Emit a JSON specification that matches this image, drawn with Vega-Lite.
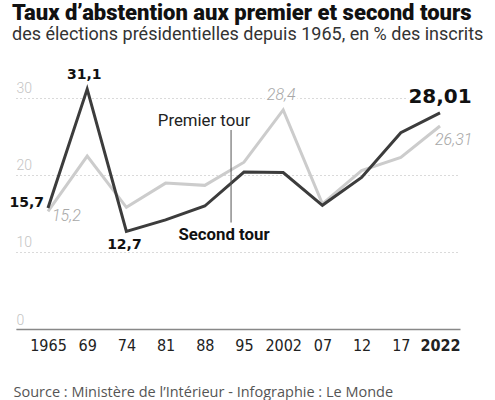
{
  "$schema": "https://vega.github.io/schema/vega-lite/v6.json",
  "width": 444,
  "height": 243,
  "autosize": "none",
  "padding": {"left": 16, "top": 86, "right": 35, "bottom": 71},
  "background": "white",
  "config": {"view": {"stroke": null}},
  "title": {
    "text": "Taux d’abstention aux premier et second tours",
    "subtitle": "des élections présidentielles depuis 1965, en % des inscrits",
    "anchor": "start",
    "frame": "group",
    "font": "Roboto",
    "fontSize": 22,
    "fontWeight": 900,
    "color": "#111111",
    "subtitleFont": "Roboto",
    "subtitleFontSize": 18,
    "subtitleColor": "#333333",
    "subtitlePadding": 1,
    "offset": 23,
    "dx": -4
  },
  "datasets": {
    "tours": [
      {"year": "1965", "i": 0, "tour": "Premier tour", "v": 15.25},
      {"year": "1969", "i": 1, "tour": "Premier tour", "v": 22.41},
      {"year": "1974", "i": 2, "tour": "Premier tour", "v": 15.77},
      {"year": "1981", "i": 3, "tour": "Premier tour", "v": 18.91},
      {"year": "1988", "i": 4, "tour": "Premier tour", "v": 18.62},
      {"year": "1995", "i": 5, "tour": "Premier tour", "v": 21.62},
      {"year": "2002", "i": 6, "tour": "Premier tour", "v": 28.4},
      {"year": "2007", "i": 7, "tour": "Premier tour", "v": 16.23},
      {"year": "2012", "i": 8, "tour": "Premier tour", "v": 20.52},
      {"year": "2017", "i": 9, "tour": "Premier tour", "v": 22.23},
      {"year": "2022", "i": 10, "tour": "Premier tour", "v": 26.31},
      {"year": "1965", "i": 0, "tour": "Second tour", "v": 15.68},
      {"year": "1969", "i": 1, "tour": "Second tour", "v": 31.1},
      {"year": "1974", "i": 2, "tour": "Second tour", "v": 12.66},
      {"year": "1981", "i": 3, "tour": "Second tour", "v": 14.14},
      {"year": "1988", "i": 4, "tour": "Second tour", "v": 15.94},
      {"year": "1995", "i": 5, "tour": "Second tour", "v": 20.34},
      {"year": "2002", "i": 6, "tour": "Second tour", "v": 20.29},
      {"year": "2007", "i": 7, "tour": "Second tour", "v": 16.03},
      {"year": "2012", "i": 8, "tour": "Second tour", "v": 19.65},
      {"year": "2017", "i": 9, "tour": "Second tour", "v": 25.44},
      {"year": "2022", "i": 10, "tour": "Second tour", "v": 28.01}
    ],
    "labels": [
      {"lab": "15,7", "i": 0, "v": 15.68},
      {"lab": "31,1", "i": 1, "v": 31.1},
      {"lab": "12,7", "i": 2, "v": 12.66},
      {"lab": "28,01", "i": 10, "v": 28.01},
      {"lab": "15,2", "i": 0, "v": 15.25},
      {"lab": "28,4", "i": 6, "v": 28.4},
      {"lab": "26,31", "i": 10, "v": 26.31}
    ],
    "notes": [
      {"lab": "Premier tour", "i": 3.98, "v": 27.0},
      {"lab": "Second tour", "i": 4.49, "v": 12.2}
    ],
    "pointer": [
      {"i": 4.67, "v": 25.8, "v2": 13.8}
    ]
  },
  "layer": [
    {
      "data": {"name": "tours"},
      "transform": [{"filter": "datum.tour === 'Premier tour'"}],
      "mark": {"type": "line", "color": "#cccccc", "strokeWidth": 3},
      "encoding": {
        "x": {
          "field": "i",
          "type": "quantitative",
          "scale": {"domain": [-0.816, 10.51], "nice": false, "zero": false},
          "axis": {
            "values": [0, 1, 2, 3, 4, 5, 6, 7, 8, 9, 10],
            "labelExpr": "['1965','69','74','81','88','95','2002','07','12','17','2022'][datum.value]",
            "title": "Source : Ministère de l’Intérieur - Infographie : Le Monde",
            "grid": false,
            "ticks": false,
            "tickSize": 0,
            "domainColor": "#888888",
            "domainWidth": 1.5,
            "labelPadding": 8,
            "labelFont": "Liberation Sans Narrow, DejaVu Sans Condensed, sans-serif",
            "labelFontSize": 16,
            "labelColor": "#222222",
            "labelFontWeight": {"condition": {"test": "datum.value == 10", "value": "bold"}, "value": "normal"},
            "titleFont": "Open Sans",
            "titleFontSize": 14.5,
            "titleFontWeight": "normal",
            "titleColor": "#555555",
            "titleAnchor": "start",
            "titleAlign": "left",
            "titleBaseline": "alphabetic",
            "titleX": -3,
            "titleY": 67
          }
        },
        "y": {
          "field": "v",
          "type": "quantitative",
          "scale": {"domain": [0, 31.5], "nice": false},
          "axis": {
            "values": [0, 10, 20, 30],
            "title": null,
            "grid": true,
            "gridDash": [1, 3],
            "gridColor": "#b5b5b5",
            "domain": false,
            "ticks": false,
            "tickSize": 0,
            "labelAlign": "left",
            "labelBaseline": "alphabetic",
            "labelPadding": 0,
            "labelOffset": -5,
            "labelFont": "Roboto",
            "labelFontWeight": 300,
            "labelFontSize": 14,
            "labelColor": "#c4c4c4"
          }
        }
      }
    },
    {
      "data": {"name": "tours"},
      "transform": [{"filter": "datum.tour === 'Second tour'"}],
      "mark": {"type": "line", "color": "#3c3c3c", "strokeWidth": 3},
      "encoding": {
        "x": {"field": "i", "type": "quantitative"},
        "y": {"field": "v", "type": "quantitative"}
      }
    },
    {
      "data": {"name": "pointer"},
      "mark": {"type": "rule", "color": "#555555", "strokeWidth": 1},
      "encoding": {
        "x": {"field": "i", "type": "quantitative"},
        "y": {"field": "v", "type": "quantitative"},
        "y2": {"field": "v2"}
      }
    },
    {
      "data": {"name": "notes"},
      "transform": [{"filter": "datum.lab === 'Premier tour'"}],
      "mark": {"type": "text", "font": "Roboto", "fontSize": 16.8, "color": "#222222", "align": "center", "baseline": "middle"},
      "encoding": {
        "x": {"field": "i", "type": "quantitative"},
        "y": {"field": "v", "type": "quantitative"},
        "text": {"field": "lab"}
      }
    },
    {
      "data": {"name": "notes"},
      "transform": [{"filter": "datum.lab === 'Second tour'"}],
      "mark": {"type": "text", "font": "Roboto", "fontSize": 16.8, "fontWeight": "bold", "color": "#111111", "align": "center", "baseline": "middle"},
      "encoding": {
        "x": {"field": "i", "type": "quantitative"},
        "y": {"field": "v", "type": "quantitative"},
        "text": {"field": "lab"}
      }
    },
    {
      "data": {"name": "labels"},
      "transform": [{"filter": "datum.lab === '15,7'"}],
      "mark": {"type": "text", "font": "DejaVu Sans", "fontSize": 14, "fontWeight": "bold", "color": "#111111", "align": "right", "baseline": "middle", "dx": -4, "dy": -5},
      "encoding": {
        "x": {"field": "i", "type": "quantitative"},
        "y": {"field": "v", "type": "quantitative"},
        "text": {"field": "lab"}
      }
    },
    {
      "data": {"name": "labels"},
      "transform": [{"filter": "datum.lab === '31,1'"}],
      "mark": {"type": "text", "font": "DejaVu Sans", "fontSize": 14, "fontWeight": "bold", "color": "#111111", "align": "center", "baseline": "middle", "dx": -3, "dy": -14},
      "encoding": {
        "x": {"field": "i", "type": "quantitative"},
        "y": {"field": "v", "type": "quantitative"},
        "text": {"field": "lab"}
      }
    },
    {
      "data": {"name": "labels"},
      "transform": [{"filter": "datum.lab === '12,7'"}],
      "mark": {"type": "text", "font": "DejaVu Sans", "fontSize": 14, "fontWeight": "bold", "color": "#111111", "align": "center", "baseline": "middle", "dx": -2, "dy": 14},
      "encoding": {
        "x": {"field": "i", "type": "quantitative"},
        "y": {"field": "v", "type": "quantitative"},
        "text": {"field": "lab"}
      }
    },
    {
      "data": {"name": "labels"},
      "transform": [{"filter": "datum.lab === '28,01'"}],
      "mark": {"type": "text", "font": "DejaVu Sans", "fontSize": 20, "fontWeight": "bold", "color": "white", "stroke": "white", "strokeWidth": 5, "align": "center", "baseline": "middle", "dy": -16},
      "encoding": {
        "x": {"field": "i", "type": "quantitative"},
        "y": {"field": "v", "type": "quantitative"},
        "text": {"field": "lab"}
      }
    },
    {
      "data": {"name": "labels"},
      "transform": [{"filter": "datum.lab === '28,01'"}],
      "mark": {"type": "text", "font": "DejaVu Sans", "fontSize": 20, "fontWeight": "bold", "color": "#111111", "align": "center", "baseline": "middle", "dy": -16},
      "encoding": {
        "x": {"field": "i", "type": "quantitative"},
        "y": {"field": "v", "type": "quantitative"},
        "text": {"field": "lab"}
      }
    },
    {
      "data": {"name": "labels"},
      "transform": [{"filter": "datum.lab === '15,2'"}],
      "mark": {"type": "text", "font": "Roboto", "fontSize": 16, "fontWeight": 300, "fontStyle": "italic", "color": "#a8a8a8", "align": "left", "baseline": "middle", "dx": 4, "dy": 5},
      "encoding": {
        "x": {"field": "i", "type": "quantitative"},
        "y": {"field": "v", "type": "quantitative"},
        "text": {"field": "lab"}
      }
    },
    {
      "data": {"name": "labels"},
      "transform": [{"filter": "datum.lab === '28,4'"}],
      "mark": {"type": "text", "font": "Roboto", "fontSize": 16, "fontWeight": 300, "fontStyle": "italic", "color": "white", "stroke": "white", "strokeWidth": 5, "align": "center", "baseline": "middle", "dx": -2, "dy": -15},
      "encoding": {
        "x": {"field": "i", "type": "quantitative"},
        "y": {"field": "v", "type": "quantitative"},
        "text": {"field": "lab"}
      }
    },
    {
      "data": {"name": "labels"},
      "transform": [{"filter": "datum.lab === '28,4'"}],
      "mark": {"type": "text", "font": "Roboto", "fontSize": 16, "fontWeight": 300, "fontStyle": "italic", "color": "#a8a8a8", "align": "center", "baseline": "middle", "dx": -2, "dy": -15},
      "encoding": {
        "x": {"field": "i", "type": "quantitative"},
        "y": {"field": "v", "type": "quantitative"},
        "text": {"field": "lab"}
      }
    },
    {
      "data": {"name": "labels"},
      "transform": [{"filter": "datum.lab === '26,31'"}],
      "mark": {"type": "text", "font": "Roboto", "fontSize": 16, "fontWeight": 300, "fontStyle": "italic", "color": "#a8a8a8", "align": "left", "baseline": "middle", "dx": -5, "dy": 14},
      "encoding": {
        "x": {"field": "i", "type": "quantitative"},
        "y": {"field": "v", "type": "quantitative"},
        "text": {"field": "lab"}
      }
    }
  ]
}
